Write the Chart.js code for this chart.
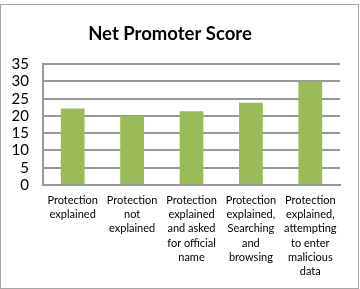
<!DOCTYPE html>
<html>
<head>
<meta charset="utf-8">
<script src="https://cdn.jsdelivr.net/npm/chart.js@4"></script>
<style>
  html, body { margin: 0; padding: 0; background: #fff; }
  #wrap { position: relative; width: 360px; height: 289px; }
  #frame { position: absolute; left: 0; top: 4px; width: 357px; height: 283px; border: 1px solid #a6a6a6; }
  canvas { position: absolute; left: 0; top: 0; }
</style>
</head>
<body>
<div id="wrap">
  <div id="frame"></div>
  <canvas id="npsChart" width="360" height="289"></canvas>
</div>
<script>
// Net Promoter Score por cenário
const categorias = [
  ['Protection', 'explained'],
  ['Protection', 'not', 'explained'],
  ['Protection', 'explained', 'and asked', 'for official', 'name'],
  ['Protection', 'explained,', 'Searching', 'and', 'browsing'],
  ['Protection', 'explained,', 'attempting', 'to enter', 'malicious', 'data']
];
const valores = [22.2, 20, 21.4, 23.8, 30];
const yMax = 35;
const yStep = 5;

const FONT = 'Lato, "Open Sans", sans-serif';
const GRID = '#999999';

const ctx = document.getElementById('npsChart').getContext('2d');
new Chart(ctx, {
  type: 'bar',
  data: {
    labels: categorias,
    datasets: [{
      data: valores,
      backgroundColor: '#9bbb59',
      borderWidth: 0,
      barPercentage: 0.4,
      categoryPercentage: 1
    }]
  },
  options: {
    responsive: false,
    animation: false,
    layout: { padding: { left: 0, right: 20, top: 0, bottom: 0 } },
    plugins: {
      legend: { display: false },
      tooltip: { enabled: false },
      title: {
        display: true,
        text: 'Net Promoter Score',
        color: '#000',
        font: { family: FONT, size: 18.5, weight: 'bold' },
        padding: { top: 23, bottom: 19 }
      }
    },
    scales: {
      y: {
        min: 0,
        max: yMax,
        afterFit: (scale) => { scale.width = 43; },
        ticks: { color: '#000', padding: 14, stepSize: yStep, autoSkip: false, font: { family: FONT, size: 15 } },
        grid: { display: true, color: GRID, lineWidth: 2, drawTicks: false },
        border: { display: true, color: GRID, width: 2 }
      },
      x: {
        afterFit: (scale) => { scale.height = 104; },
        ticks: {
          color: '#000',
          padding: 8,
          maxRotation: 0,
          autoSkip: false,
          font: { family: FONT, size: 11, lineHeight: 1.3 }
        },
        grid: { display: false, drawTicks: false },
        border: { color: GRID, width: 2 }
      }
    }
  }
});
</script>
</body>
</html>
